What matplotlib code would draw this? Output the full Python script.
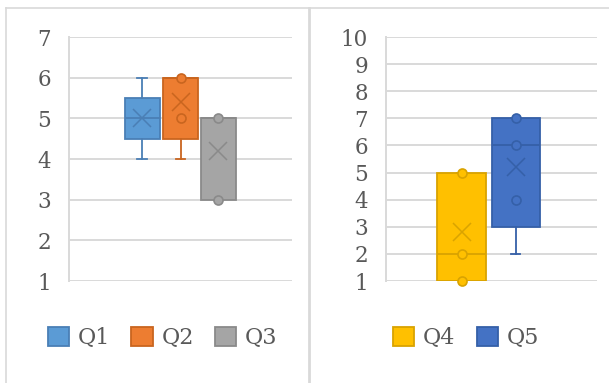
import matplotlib.pyplot as plt
from matplotlib.lines import Line2D
from matplotlib.patches import Patch

plt.rcParams["font.family"] = "DejaVu Serif"

# box statistics: lower whisker, q1, median, q3, upper whisker, mean
names_a = ["Q1", "Q2", "Q3"]
whislo_a = [4, 4, 3]
q1_a = [4.5, 4.5, 3]
med_a = [5, 6, 5]
q3_a = [5.5, 6, 5]
whishi_a = [6, 6, 5]
mean_a = [5.0, 5.4, 4.2]
points_a = [[], [6, 5], [5, 3]]

names_b = ["Q4", "Q5"]
whislo_b = [1, 2]
q1_b = [1, 3]
med_b = [2, 6]
q3_b = [5, 7]
whishi_b = [5, 7]
mean_b = [2.8, 5.2]
points_b = [[5, 2, 1], [7, 6, 4]]

fills_a = ["#5B9BD5", "#ED7D31", "#A5A5A5"]
edges_a = ["#4A7FB5", "#C9651F", "#8A8A8A"]
fills_b = ["#FFC000", "#4472C4"]
edges_b = ["#D9A300", "#3560A8"]

W, H = 609, 383
fig = plt.figure(figsize=(W / 100, H / 100), dpi=100)
fig.patch.set_facecolor("white")


def px(x0, y0, x1, y1):
    return [x0 / W, 1 - y1 / H, (x1 - x0) / W, (y1 - y0) / H]


def draw_panel(ax, names, whislo, q1, med, q3, whishi, mean, points,
               fills, edges, positions, width, capw, ymax, legend_x):
    for i, name in enumerate(names):
        st = dict(label=name, whislo=whislo[i], q1=q1[i], med=med[i],
                  q3=q3[i], whishi=whishi[i], mean=mean[i], fliers=[])
        ec = edges[i]
        ax.bxp([st], positions=[positions[i]], widths=width, capwidths=capw,
               patch_artist=True, showmeans=True, showfliers=False,
               boxprops=dict(facecolor=fills[i], edgecolor=ec, linewidth=1.3),
               medianprops=dict(color=ec, linewidth=1.3),
               whiskerprops=dict(color=ec, linewidth=1.3),
               capprops=dict(color=ec, linewidth=1.3),
               meanprops=dict(marker="x", markersize=13, markeredgecolor=ec,
                              markeredgewidth=1.1),
               manage_ticks=False, zorder=3)
        if points[i]:
            ax.plot([positions[i]] * len(points[i]), points[i], "o",
                    markersize=6.5, markerfacecolor=fills[i],
                    markeredgecolor=ec, markeredgewidth=1.2, zorder=4,
                    clip_on=False)

    ax.set_ylim(1, ymax)
    ax.set_yticks(range(1, ymax + 1))
    ax.grid(axis="y", color="#D9D9D9", linewidth=1.4, zorder=0)
    ax.set_axisbelow(True)
    for side in ["top", "right", "bottom"]:
        ax.spines[side].set_visible(False)
    ax.spines["left"].set_color("#D9D9D9")
    ax.spines["left"].set_linewidth(1.4)
    ax.set_xticks([])
    ax.tick_params(axis="y", length=0, pad=13, labelsize=15.5,
                   labelcolor="#595959")

    handles = [Patch(facecolor=f, edgecolor=e, linewidth=1.3)
               for f, e in zip(fills, edges)]
    ax.legend(handles, names, loc="center", bbox_to_anchor=(legend_x, -0.234),
              ncol=len(names), frameon=False, fontsize=16,
              handlelength=0.95, handleheight=0.95, handletextpad=0.4,
              columnspacing=0.95, borderpad=0, labelcolor="#595959")


ax1 = fig.add_axes(px(69, 37, 292, 281))
ax1.set_xlim(-2.9, 2.9)
draw_panel(ax1, names_a, whislo_a, q1_a, med_a, q3_a, whishi_a, mean_a,
           points_a, fills_a, edges_a, [-1.0, 0.0, 0.98], 0.91, 0.24, 7, 0.42)

ax2 = fig.add_axes(px(386, 37, 597, 281))
ax2.set_xlim(-1.95, 1.95)
draw_panel(ax2, names_b, whislo_b, q1_b, med_b, q3_b, whishi_b, mean_b,
           points_b, fills_b, edges_b, [-0.55, 0.45], 0.9, 0.17, 10, 0.379)

# chart frames
frame = "#D9D9D9"
for (x0, y0, x1, y1, lw) in [(6, 8, 609, 8, 1.2), (6, 8, 6, 383, 1.2),
                             (309, 8, 309, 383, 2.0)]:
    fig.add_artist(Line2D([x0 / W, x1 / W], [1 - y0 / H, 1 - y1 / H],
                          color=frame, linewidth=lw,
                          transform=fig.transFigure))

fig.savefig("out.png", dpi=100)
